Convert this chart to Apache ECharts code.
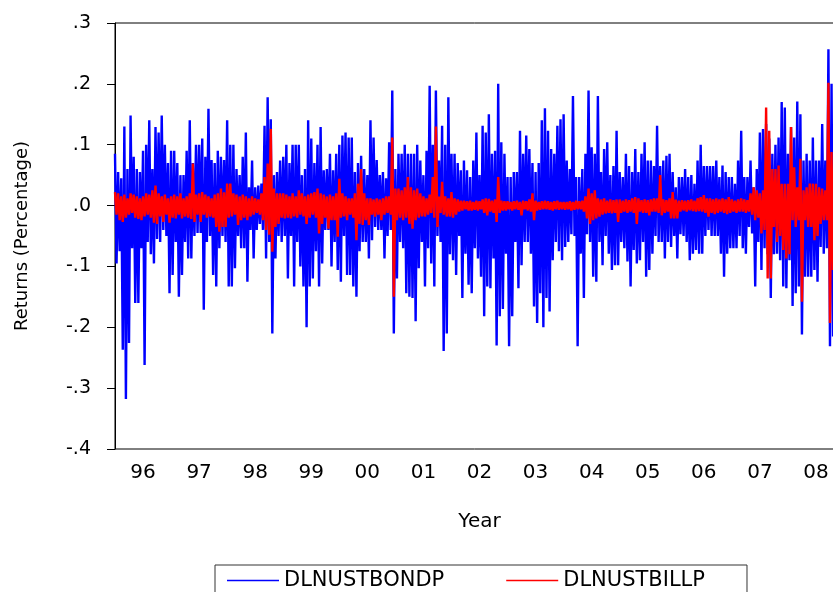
<!DOCTYPE html>
<html>
<head>
<meta charset="UTF-8">
<title>DLNUSTBONDP / DLNUSTBILLP</title>
<script src="https://cdn.jsdelivr.net/npm/echarts@6.0.0/dist/echarts.min.js"></script>
<style>
  html, body { margin: 0; padding: 0; background: #fff; }
  #chart { width: 833px; height: 592px; }
</style>
</head>
<body>
<div id="chart"></div>
<script>
// years on the axis and their labels
const years = [1996, 1997, 1998, 1999, 2000, 2001, 2002, 2003, 2004, 2005, 2006, 2007, 2008];
const yearLabels = ['96', '97', '98', '99', '00', '01', '02', '03', '04', '05', '06', '07', '08'];
const perYear = 36; // readings per year, alternating swing up / swing down

// DLNUSTBONDP (blue)
const bond96 = [.085,-.095,.055,-.075,.045,-.237,.13,-.318,.06,-.226,.148,-.07,.08,-.16,.06,-.16,.055,-.07,.09,-.262,.10,-.06,.14,-.08,.06,-.095,.129,-.055,.12,-.06,.148,-.04,.10,-.05,.07,-.144];
const bond97 = [.09,-.114,.09,-.06,.07,-.15,.05,-.114,.05,-.06,.09,-.087,.14,-.087,.07,-.05,.10,-.045,.10,-.045,.11,-.171,.08,-.06,.159,-.05,.075,-.114,.07,-.133,.09,-.07,.08,-.05,.075,-.06];
const bond98 = [.14,-.133,.10,-.133,.10,-.103,.06,-.05,.05,-.07,.08,-.07,.12,-.125,.03,-.04,.074,-.087,.03,-.04,.033,-.03,.036,-.04,.131,-.087,.178,-.06,.142,-.21,.05,-.087,.055,-.05,.074,-.06];
const bond99 = [.08,-.05,.10,-.12,.07,-.05,.10,-.133,.10,-.06,.10,-.10,.05,-.133,.06,-.20,.14,-.133,.11,-.12,.07,-.075,.10,-.133,.129,-.095,.058,-.04,.06,-.04,.085,-.10,.058,-.06,.085,-.106];
const bond00 = [.10,-.125,.115,-.05,.12,-.114,.112,-.114,.112,-.133,.055,-.15,.07,-.075,.082,-.06,.06,-.06,.05,-.087,.14,-.057,.112,-.035,.075,-.04,.05,-.04,.055,-.087,.045,-.05,.104,-.04,.189,-.21];
const bond01 = [.06,-.12,.085,-.06,.085,-.07,.10,-.144,.085,-.15,.085,-.152,.085,-.19,.10,-.103,.074,-.06,.05,-.133,.09,-.07,.197,-.095,.10,-.133,.189,-.05,.074,-.06,.131,-.239,.10,-.21,.178,-.08];
const bond02 = [.085,-.09,.085,-.114,.07,-.05,.058,-.152,.074,-.079,.058,-.13,.047,-.144,.074,-.07,.12,-.087,.05,-.117,.131,-.182,.12,-.133,.15,-.136,.085,-.087,.09,-.23,.20,-.182,.104,-.17,.085,-.079];
const bond03 = [.047,-.231,.047,-.182,.055,-.06,.055,-.136,.123,-.098,.085,-.06,.115,-.06,.093,-.079,.07,-.166,.055,-.193,.07,-.144,.14,-.20,.16,-.152,.123,-.174,.093,-.09,.085,-.06,.131,-.075,.142,-.09];
const bond04 = [.15,-.068,.074,-.06,.06,-.047,.18,-.05,.047,-.231,.047,-.079,.06,-.152,.085,-.047,.189,-.06,.096,-.117,.085,-.125,.18,-.06,.055,-.098,.093,-.05,.104,-.079,.05,-.106,.065,-.098,.123,-.098];
const bond05 = [.055,-.06,.047,-.07,.085,-.092,.065,-.133,.055,-.073,.093,-.095,.055,-.09,.085,-.06,.104,-.117,.074,-.106,.074,-.079,.065,-.05,.131,-.06,.065,-.06,.074,-.087,.082,-.06,.085,-.068,.055,-.05];
const bond06 = [.03,-.087,.047,-.047,.047,-.05,.06,-.06,.047,-.09,.05,-.079,.036,-.073,.074,-.079,.10,-.079,.065,-.05,.065,-.04,.065,-.05,.065,-.05,.074,-.05,.047,-.079,.066,-.117,.055,-.079,.047,-.07];
const bond07 = [.047,-.07,.036,-.07,.074,-.05,.123,-.07,.047,-.079,.047,-.035,.074,-.046,.03,-.133,.06,-.06,.12,-.106,.126,-.07,.134,-.08,.11,-.152,.085,-.08,.10,-.079,.112,-.09,.17,-.133,.161,-.136];
const bond08 = [.085,-.09,.129,-.165,.112,-.144,.171,-.133,.15,-.212,.074,-.117,.085,-.117,.074,-.117,.112,-.106,.074,-.125,.074,-.068,.134,-.079,.074,-.07,.257,-.231,.20,-.215];

// DLNUSTBILLP (red)
const bill96 = [.022,-.015,.02,-.024,.015,-.027,.018,-.02,.012,-.015,.02,-.012,.018,-.02,.015,-.022,.012,-.024,.015,-.018,.02,-.015,.018,-.02,.025,-.028,.033,-.03,.02,-.018,.015,-.027,.018,-.015,.012,-.028];
const bill97 = [.015,-.02,.018,-.021,.015,-.015,.02,-.021,.012,-.018,.015,-.02,.02,-.022,.069,-.027,.018,-.015,.02,-.027,.022,-.015,.018,-.02,.015,-.018,.012,-.02,.018,-.035,.02,-.043,.028,-.035,.022,-.035];
const bill98 = [.036,-.02,.036,-.018,.02,-.015,.018,-.032,.015,-.024,.018,-.02,.015,-.024,.012,-.018,.015,-.015,.012,-.012,.01,-.015,.02,-.024,.047,-.04,.069,-.048,.126,-.076,.028,-.035,.02,-.03,.02,-.02];
const bill99 = [.02,-.021,.018,-.02,.015,-.021,.02,-.018,.015,-.02,.025,-.015,.02,-.018,.015,-.03,.018,-.02,.02,-.015,.022,-.02,.028,-.046,.02,-.03,.018,-.02,.015,-.038,.018,-.024,.015,-.024,.02,-.051];
const bill00 = [.044,-.02,.02,-.018,.015,-.024,.012,-.015,.012,-.02,.02,-.057,.036,-.03,.06,-.032,.02,-.024,.012,-.032,.012,-.015,.01,-.018,.012,-.015,.01,-.024,.012,-.015,.015,-.012,.015,-.015,.112,-.15];
const bill01 = [.028,-.024,.028,-.02,.025,-.024,.03,-.02,.047,-.03,.03,-.038,.025,-.024,.028,-.02,.02,-.018,.015,-.018,.012,-.015,.018,-.012,.047,-.02,.13,-.035,.015,-.012,.039,-.015,.015,-.018,.012,-.018];
const bill02 = [.022,-.02,.012,-.015,.01,-.01,.008,-.008,.008,-.006,.007,-.008,.008,-.008,.006,-.007,.008,-.008,.007,-.006,.01,-.012,.012,-.016,.011,-.01,.008,-.012,.01,-.027,.047,-.012,.008,-.008,.007,-.008];
const bill03 = [.007,-.006,.006,-.008,.007,-.006,.008,-.007,.006,-.016,.008,-.006,.007,-.008,.01,-.01,.02,-.024,.008,-.008,.006,-.007,.007,-.006,.008,-.006,.007,-.007,.006,-.008,.007,-.006,.008,-.007,.006,-.006];
const bill04 = [.006,-.007,.006,-.006,.007,-.008,.006,-.007,.008,-.006,.007,-.006,.008,-.01,.015,-.021,.028,-.03,.02,-.024,.025,-.021,.012,-.018,.01,-.015,.012,-.013,.008,-.012,.01,-.013,.009,-.012,.01,-.027];
const bill05 = [.01,-.012,.008,-.01,.01,-.012,.009,-.01,.012,-.012,.014,-.03,.012,-.01,.009,-.012,.01,-.012,.009,-.016,.01,-.01,.012,-.01,.012,-.012,.05,-.016,.01,-.012,.009,-.01,.012,-.021,.022,-.021];
const bill06 = [.01,-.021,.008,-.01,.009,-.008,.008,-.01,.009,-.008,.01,-.009,.008,-.01,.012,-.009,.014,-.01,.017,-.012,.012,-.018,.012,-.012,.01,-.014,.012,-.012,.01,-.01,.012,-.012,.01,-.014,.014,-.012];
const bill07 = [.01,-.01,.008,-.012,.01,-.01,.012,-.01,.01,-.012,.009,-.01,.02,-.015,.03,-.024,.025,-.02,.02,-.046,.025,-.04,.161,-.12,.123,-.12,.06,-.035,.06,-.06,.066,-.05,.036,-.073,.036,-.087];
const bill08 = [.036,-.08,.129,-.024,.063,-.035,.03,-.024,.077,-.158,.025,-.024,.03,-.035,.036,-.035,.036,-.057,.036,-.05,.03,-.03,.028,-.024,.025,-.024,.202,-.193,.088,-.106];

const bondYears = [bond96, bond97, bond98, bond99, bond00, bond01, bond02, bond03, bond04, bond05, bond06, bond07, bond08];
const billYears = [bill96, bill97, bill98, bill99, bill00, bill01, bill02, bill03, bill04, bill05, bill06, bill07, bill08];

// turn the per-year readings into [time, value] pairs
function toPoints(byYear) {
  const pts = [];
  byYear.forEach((vals, i) => {
    vals.forEach((v, k) => pts.push([years[i] + k / perYear, v]));
  });
  return pts;
}

const txt = { color: '#000', fontFamily: 'DejaVu Sans', fontSize: 20 };

const chart = echarts.init(document.getElementById('chart'));
chart.setOption({
  animation: false,
  backgroundColor: '#fff',
  textStyle: { fontFamily: 'DejaVu Sans' },
  grid: {
    // frame runs past the right edge of the picture
    left: 115, top: 23, width: 729, bottom: 143,
    outerBoundsMode: 'none', containLabel: false,
    show: true, borderColor: '#000', borderWidth: 1
  },
  legend: {
    left: 215, top: 565,
    padding: [5, 42, 5, 12],
    icon: 'rect', itemWidth: 52, itemHeight: 1.5, itemGap: 62,
    borderColor: '#333', borderWidth: 1,
    textStyle: Object.assign({}, txt, { fontSize: 21 }),
    data: ['DLNUSTBONDP', 'DLNUSTBILLP']
  },
  xAxis: [
    {
      type: 'value', min: 1996, max: 2009, interval: 1, position: 'bottom',
      axisLine: { lineStyle: { color: '#000', width: 1 } },
      axisTick: { length: 8, lineStyle: { color: '#000' } },
      minorTick: { show: true, splitNumber: 4, length: 4, lineStyle: { color: '#000' } },
      axisLabel: { show: false },
      splitLine: { show: false }
    },
    {
      // labels sit in the middle of each year
      type: 'value', min: 1996, max: 2009, interval: 0.5, position: 'bottom',
      axisLine: { show: false }, axisTick: { show: false }, splitLine: { show: false },
      axisLabel: Object.assign({
        margin: 14,
        formatter: v => (Math.round(v * 2) % 2 === 1 ? yearLabels[Math.floor(v) - 1996] : '')
      }, txt),
      name: 'Year', nameLocation: 'middle', nameGap: 63,
      nameTextStyle: txt
    }
  ],
  yAxis: {
    type: 'value', min: -0.4, max: 0.3, interval: 0.1,
    axisLine: { show: true, lineStyle: { color: '#000', width: 1 } },
    axisTick: { show: true, length: 8, lineStyle: { color: '#000' } },
    splitLine: { show: false },
    axisLabel: Object.assign({
      margin: 24,
      formatter: v => v.toFixed(1).replace('0.', '.')
    }, txt, { fontSize: 19 }),
    name: 'Returns (Percentage)', nameLocation: 'middle', nameGap: 84, nameRotate: 90,
    nameTextStyle: Object.assign({}, txt, { fontSize: 18 })
  },
  series: [
    {
      name: 'DLNUSTBONDP', type: 'line', symbol: 'none', xAxisIndex: 0,
      lineStyle: { color: '#0000ff', width: 2.4 }, itemStyle: { color: '#0000ff' },
      data: toPoints(bondYears)
    },
    {
      name: 'DLNUSTBILLP', type: 'line', symbol: 'none', xAxisIndex: 0,
      lineStyle: { color: '#ff0000', width: 2.4 }, itemStyle: { color: '#ff0000' },
      data: toPoints(billYears)
    }
  ]
});
</script>
</body>
</html>
